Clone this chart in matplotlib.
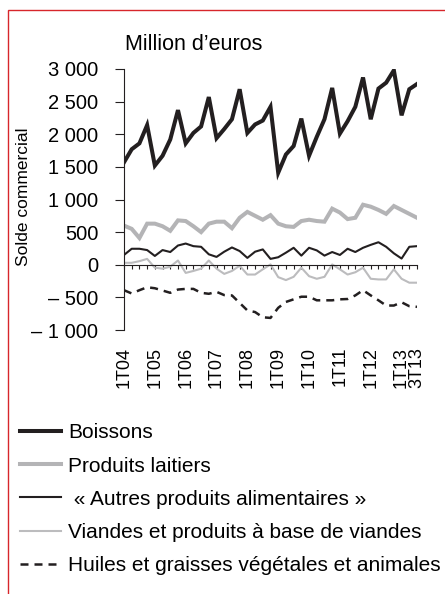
import matplotlib
matplotlib.use("Agg")
import matplotlib.pyplot as plt
from matplotlib.patches import Rectangle
from matplotlib.ticker import FixedLocator, FuncFormatter
import numpy as np

plt.rcParams['font.family'] = ['Liberation Sans', 'DejaVu Sans']

# quarters 1T04 .. 3T13
quarters = [f"{q}T{y:02d}" for y in range(4, 14) for q in range(1, 5)][:39]
tick_labels = ["1T04", "1T05", "1T06", "1T07", "1T08", "1T09", "1T10",
               "1T11", "1T12", "1T13", "3T13"]

boissons = [1570, 1770, 1860, 2140, 1520, 1670, 1920, 2370, 1860, 2020, 2120, 2570, 1940,
            2080, 2230, 2690, 2020, 2150, 2210, 2420, 1410, 1690, 1820, 2240, 1670, 1960,
            2230, 2710, 2010, 2200, 2420, 2870, 2230, 2700, 2790, 2980, 2290, 2690, 2770]
laitiers = [600, 550, 410, 630, 630, 590, 520, 680, 670, 590, 500, 630, 660,
            660, 560, 720, 810, 750, 690, 760, 630, 590, 580, 670, 690, 670,
            660, 860, 800, 700, 720, 920, 890, 840, 780, 900, 840, 780, 720]
autres = [150, 245, 245, 225, 135, 225, 195, 295, 325, 285, 275, 160, 120,
          200, 265, 210, 105, 200, 235, 90, 115, 185, 260, 140, 260, 220,
          140, 195, 150, 245, 195, 260, 305, 345, 275, 175, 95, 275, 285]
viandes = [30, 30, 55, 90, -45, -60, -30, 65, -125, -95, -60, 65, -60,
           -140, -95, -15, -150, -150, -70, 5, -190, -235, -185, -45, -175, -215,
           -185, 5, -70, -150, -115, -45, -215, -225, -225, -70, -215, -275, -275]
huiles = [-390, -440, -390, -345, -360, -395, -430, -380, -370, -370, -430, -445, -415,
          -465, -470, -585, -700, -725, -805, -815, -660, -570, -530, -490, -490, -545,
          -545, -545, -530, -525, -470, -390, -470, -545, -625, -625, -575, -635, -645]

W, H = 445, 594
fig = plt.figure(figsize=(W / 100, H / 100), dpi=100)
ax = fig.add_axes([124 / W, 1 - 330 / H, 293 / W, 261 / H])

x = np.arange(len(quarters))
dark = '#231f20'
grey = '#b4b4b6'
ax.plot(x, boissons, color=dark, lw=2.9, solid_joinstyle='miter', label='Boissons')
ax.plot(x, laitiers, color=grey, lw=2.9, solid_joinstyle='miter', label='Produits laitiers')
ax.plot(x, autres, color=dark, lw=1.5, label=' « Autres produits alimentaires »')
ax.plot(x, viandes, color='#bcbcbe', lw=1.5, label='Viandes et produits à base de viandes')
ax.plot(x, huiles, color=dark, lw=1.8, dashes=(3.2, 2.4),
        label='Huiles et graisses végétales et animales')

ax.set_xlim(0, len(quarters) - 1)
ax.set_ylim(-1000, 3000)

for s in ['top', 'right']:
    ax.spines[s].set_visible(False)
ax.spines['left'].set_color(dark)
ax.spines['left'].set_linewidth(0.8)
ax.spines['bottom'].set_position(('data', 0))
ax.spines['bottom'].set_color(dark)
ax.spines['bottom'].set_linewidth(0.8)

ax.set_yticks(np.arange(-1000, 3001, 500))


def fmt(v, pos):
    s = f"{abs(int(v)):,}".replace(",", " ")
    return ("– " + s) if v < 0 else s


ax.yaxis.set_major_formatter(FuncFormatter(fmt))
ax.tick_params(axis='y', direction='out', length=6.5, width=0.8, color=dark,
               pad=12, labelsize=14.5, labelcolor='black')

label_pos = [quarters.index(t) for t in tick_labels]
ax.xaxis.set_major_locator(FixedLocator(label_pos))
ax.set_xticklabels(tick_labels, rotation=90, ha='center', va='top')
ax.xaxis.set_minor_locator(FixedLocator(x))
ax.tick_params(axis='x', which='both', direction='out', length=3, width=0.8,
               color=dark)
ax.tick_params(axis='x', which='major', pad=56, labelsize=13)

fig.text(125 / W, 1 - 45 / H, 'Million d’euros', fontsize=15.5, va='center', ha='left')
fig.text(24 / W, 1 - 197 / H, 'Solde commercial', fontsize=12.5, rotation=90,
         va='center', ha='center')

leg = fig.legend(loc='upper left', bbox_to_anchor=(12 / W, 1 - 415 / H),
                 frameon=False, fontsize=15, handlelength=1.95, handletextpad=0.33,
                 labelspacing=0.68, borderaxespad=0)

fig.patches.append(Rectangle((8 / W, -0.1), 1.2, 1.1 - 10 / H + 0.0,
                             transform=fig.transFigure, fill=False,
                             edgecolor='#d7262b', lw=1.0))

fig.savefig('out.png', dpi=100)
